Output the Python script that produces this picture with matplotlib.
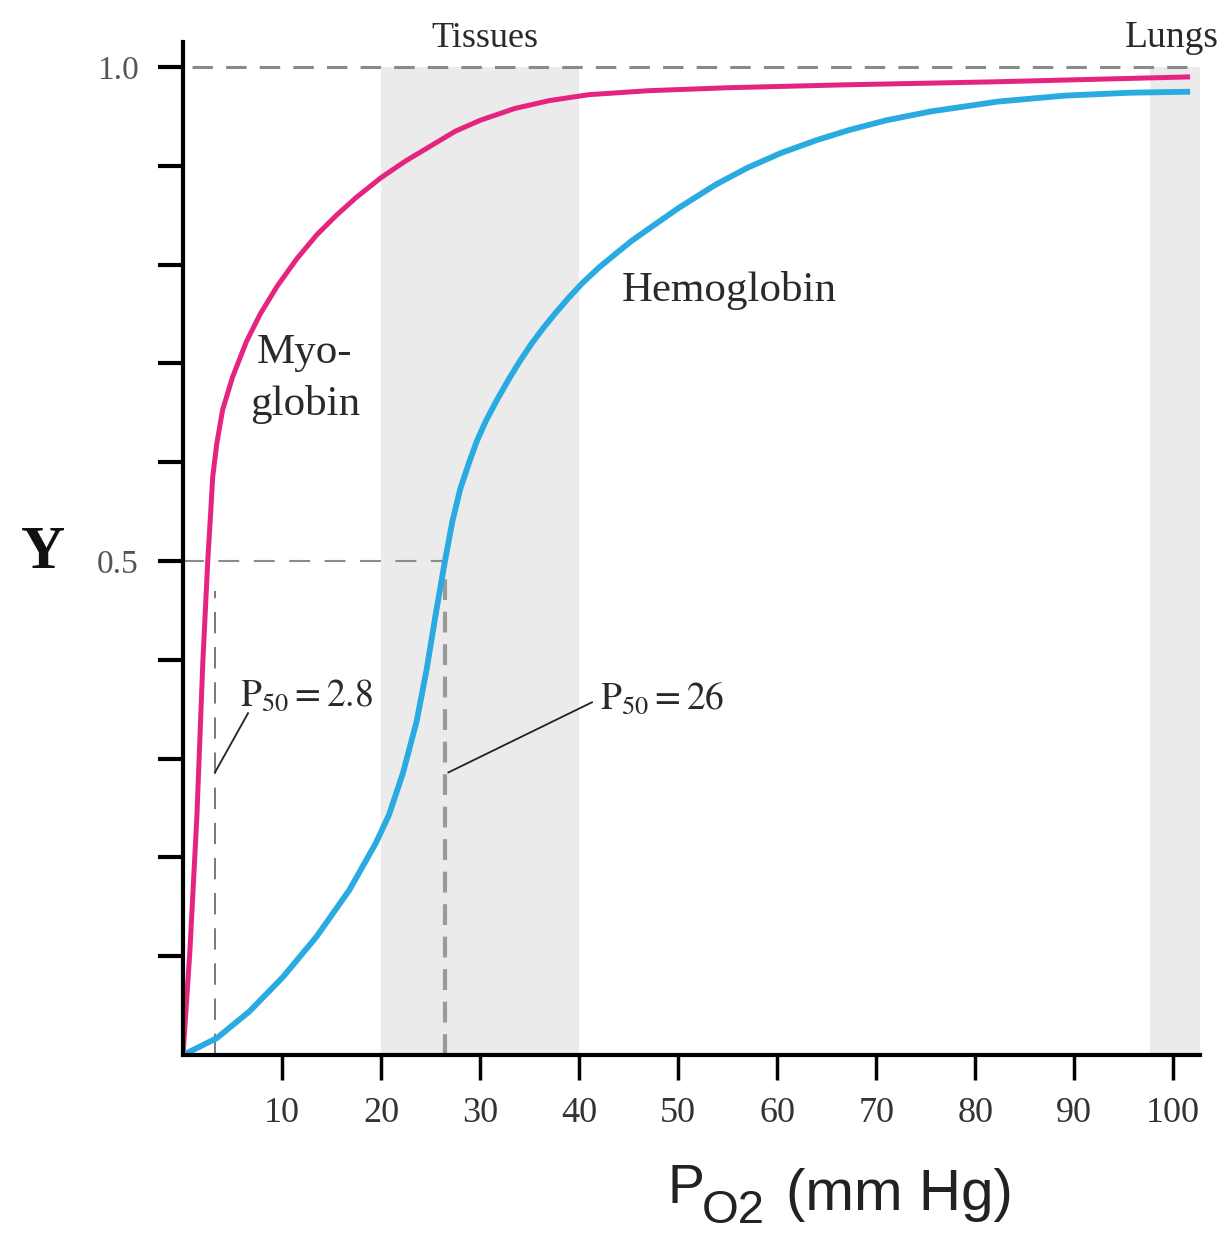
import matplotlib
matplotlib.use("Agg")
import matplotlib.pyplot as plt

plt.rcParams['mathtext.fontset'] = 'stix'
plt.rcParams['font.family'] = ['Liberation Serif', 'DejaVu Serif']

# ---- data ----
myo_p = [0, 0.7, 1.4, 2.0, 2.5, 2.8, 3.0, 3.4, 4.0, 5.0, 6.4, 7.8, 9.5, 11.5, 13.5,
         15.5, 17.5, 20, 22.5, 25, 27.5, 30, 33.5, 37, 41, 47, 55, 67, 82, 101.7]
myo_y = [0, 0.106, 0.241, 0.397, 0.50, 0.55, 0.585, 0.618, 0.653, 0.686, 0.722, 0.75,
         0.778, 0.806, 0.830, 0.850, 0.868, 0.888, 0.905, 0.92, 0.935, 0.946, 0.958,
         0.966, 0.972, 0.976, 0.979, 0.982, 0.985, 0.99]

hb_p = [0, 3.4, 6.7, 10.1, 13.5, 16.8, 19.5, 20.8, 22.2, 23.6, 24.6, 25.5, 26.4, 27.2,
        28.0, 28.9, 29.7, 30.6, 31.7, 32.9, 34.0, 35.2, 36.4, 37.7, 39.0, 40.3, 42.0,
        43.7, 45.3, 47, 50, 53.8, 57, 60.4, 64, 67.2, 71, 75.5, 82.3, 89, 95.7, 101.7]
hb_y = [0, 0.017, 0.044, 0.079, 0.12, 0.167, 0.215, 0.243, 0.285, 0.338, 0.39, 0.445,
        0.497, 0.54, 0.573, 0.600, 0.622, 0.642, 0.663, 0.684, 0.702, 0.72, 0.736,
        0.752, 0.767, 0.781, 0.797, 0.811, 0.824, 0.836, 0.857, 0.881, 0.898, 0.913,
        0.926, 0.936, 0.946, 0.955, 0.965, 0.971, 0.974, 0.975]

x_ticks = [10, 20, 30, 40, 50, 60, 70, 80, 90, 100]
x_tick_labels = ['10', '20', '30', '40', '50', '60', '70', '80', '90', '100']
y_ticks = [0.1, 0.2, 0.3, 0.4, 0.5, 0.6, 0.7, 0.8, 0.9, 1.0]
y_tick_labels = ['', '', '', '', '0.5', '', '', '', '', '1.0']

tissues_range = [20, 40]
lungs_range = [97.7, 102.7]

PINK = '#e5247f'
BLUE = '#29abe2'
SHADE = '#ebebeb'

W, H = 1228, 1234
fig = plt.figure(figsize=(W / 100, H / 100), dpi=100)
ax = fig.add_axes([183 / W, 1 - 1055 / H, (1200 - 183) / W, (1055 - 42) / H])
ax.set_xlim(0, 102.7)
ax.set_ylim(0, 1013 / 988)

for s in ['top', 'right']:
    ax.spines[s].set_visible(False)
for s in ['left', 'bottom']:
    ax.spines[s].set_linewidth(3)
    ax.spines[s].set_zorder(10)

ymax_frac = 1.0 / (1013 / 988)
ax.axvspan(tissues_range[0], tissues_range[1], ymin=0, ymax=ymax_frac, color=SHADE, lw=0, zorder=0)
ax.axvspan(lungs_range[0], lungs_range[1], ymin=0, ymax=ymax_frac, color=SHADE, lw=0, zorder=0)

# dashed reference lines
ax.plot([0.9, 101.4], [1.0, 1.0], color='#8a8a8a', lw=2.2, linestyle=(0, (6.7, 4.3)), zorder=2)
ax.plot([0, 26.5], [0.5, 0.5], color='#8a8a8a', lw=1.5, linestyle=(0, (10, 7)), zorder=2)
ax.plot([3.23, 3.23], [0, 0.47], color='#555555', lw=1.1, linestyle=(0, (14, 9)), zorder=2)
ax.plot([26.5, 26.5], [0, 0.5], color='#9a9a9a', lw=3, linestyle=(0, (5, 2.8)), zorder=2)

# curves
ax.plot(myo_p, myo_y, color=PINK, lw=3.6, solid_capstyle='butt', solid_joinstyle='round', zorder=4)
ax.plot(hb_p, hb_y, color=BLUE, lw=4.2, solid_capstyle='butt', solid_joinstyle='round', zorder=4)

# leader lines
ax.plot([6.57, 3.23], [0.346, 0.286], color='#222222', lw=1.3, zorder=5)
ax.plot([41.3, 26.8], [0.357, 0.286], color='#222222', lw=1.3, zorder=5)

# ticks
ax.set_xticks(x_ticks)
ax.set_xticklabels(x_tick_labels, fontsize=26, color='#333333')
ax.set_yticks(y_ticks)
ax.set_yticklabels(y_tick_labels, fontsize=24, color='#555555')
ax.tick_params(axis='x', direction='out', length=18, width=2.5, pad=12)
ax.tick_params(axis='y', direction='out', length=18, width=3, pad=14)

# texts
tc = '#2a2a2a'
ax.text(5.76, 0.354, r'$\mathrm{P_{50}}=2.8$', fontsize=27, color=tc, ha='left', va='baseline', zorder=6)
ax.text(42.1, 0.351, r'$\mathrm{P_{50}}=26$', fontsize=27, color=tc, ha='left', va='baseline', zorder=6)
ax.text(12.3, 0.700, 'Myo-', fontsize=31, color=tc, ha='center', va='baseline')
ax.text(12.3, 0.648, 'globin', fontsize=31, color=tc, ha='center', va='baseline')
ax.text(55.2, 0.763, 'Hemoglobin', fontsize=31, color=tc, ha='center', va='baseline')
ax.text(30.5, 1.020, 'Tissues', fontsize=26, color=tc, ha='center', va='baseline', clip_on=False)
ax.text(99.9, 1.020, 'Lungs', fontsize=27, color=tc, ha='center', va='baseline', clip_on=False)

fig.text(43 / W, 1 - 568 / H, 'Y', fontsize=44, fontweight='bold', color='#111111',
         ha='center', va='baseline')

fig.text(668 / W, 1 - 1203 / H, 'P', fontsize=40, family='Liberation Sans', color='#222222',
         ha='left', va='baseline')
fig.text(702 / W, 1 - 1223 / H, 'O2', fontsize=34, family='Liberation Sans', color='#222222',
         ha='left', va='baseline')
fig.text(786 / W, 1 - 1210 / H, '(mm Hg)', fontsize=42, family='Liberation Sans', color='#222222',
         ha='left', va='baseline')

fig.savefig('out.png', dpi=100)
